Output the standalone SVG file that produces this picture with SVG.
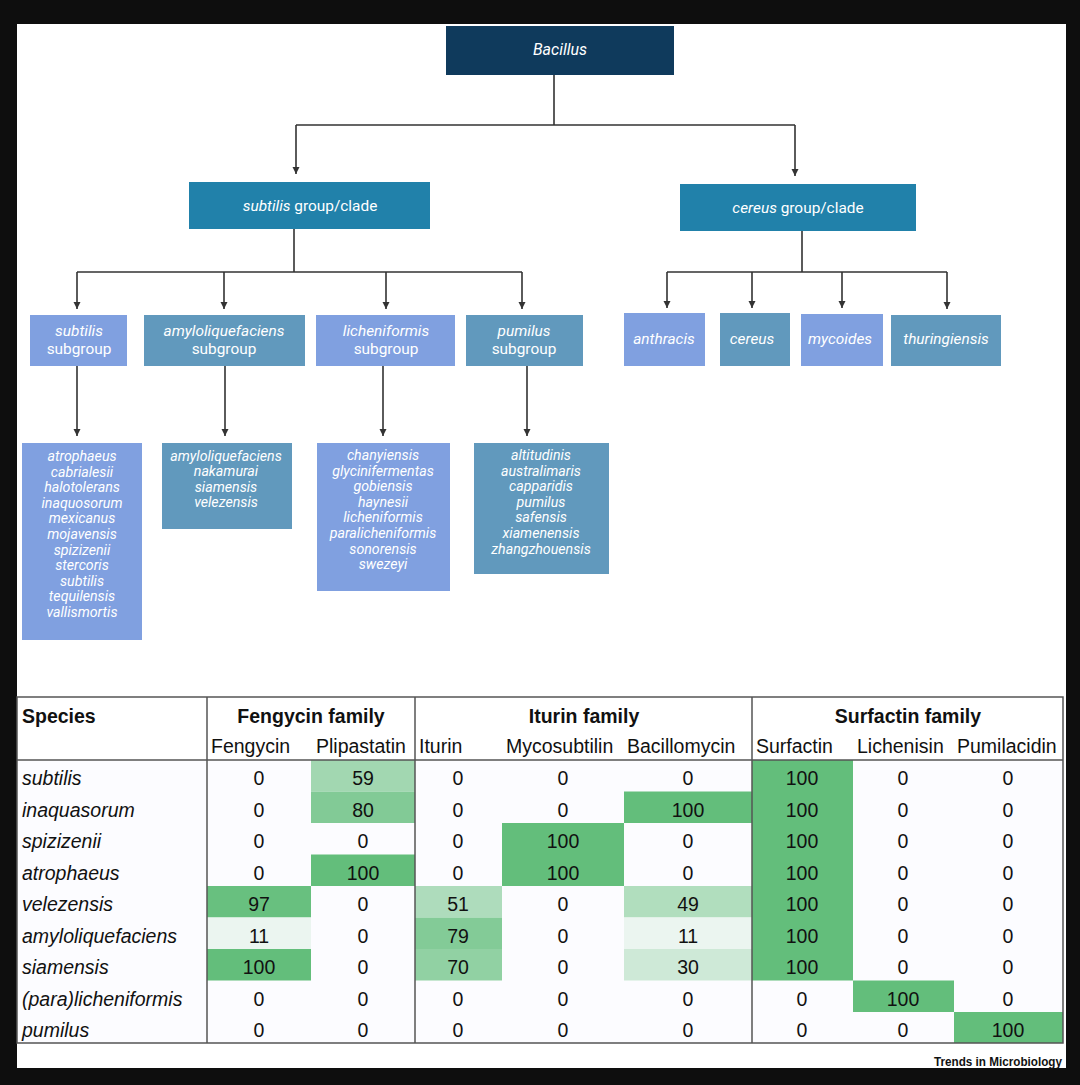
<svg xmlns="http://www.w3.org/2000/svg" width="1080" height="1085" viewBox="0 0 1080 1085">
<style>
.t{font-family:Roboto,"Liberation Sans",sans-serif;fill:#fff;text-anchor:middle}
.i{font-style:italic}
.sp{font-family:Roboto,"Liberation Sans",sans-serif;font-style:italic;font-size:14.2px;fill:#fff;text-anchor:middle}
.peri{fill:#80a0e0}
.steel{fill:#6199bd}
.grp{fill:#2181aa}
.conn{stroke:#333;stroke-width:1.6;fill:none}
.tb{font-family:"Liberation Sans",Arial,sans-serif;font-size:19.5px;fill:#111}
.b{font-weight:bold}
.c{text-anchor:middle}
.grid{stroke:#555;stroke-width:1.5;fill:none}
</style>
<defs>
<marker id="ah" viewBox="0 0 10 10" refX="10" refY="5" markerWidth="7" markerHeight="8" markerUnits="userSpaceOnUse" orient="auto">
<path d="M0,0 L10,5 L0,10 z" fill="#333"/>
</marker>
</defs>
<rect x="0" y="0" width="1080" height="1085" fill="#0e0e0e"/>
<rect x="17" y="24" width="1049" height="1044" fill="#fff"/>

<g id="connectors">
<path class="conn" d="M554,75 V125 M296,125 H795 M802,231 V272 M667,272 H947 M294,229 V272 M77,272 H522"/>
<path class="conn" marker-end="url(#ah)" d="M296,125 V174"/>
<path class="conn" marker-end="url(#ah)" d="M795,125 V176"/>
<path class="conn" marker-end="url(#ah)" d="M77,272 V309"/>
<path class="conn" marker-end="url(#ah)" d="M224,272 V309"/>
<path class="conn" marker-end="url(#ah)" d="M386,272 V309"/>
<path class="conn" marker-end="url(#ah)" d="M522,272 V309"/>
<path class="conn" marker-end="url(#ah)" d="M667,272 V308"/>
<path class="conn" marker-end="url(#ah)" d="M752,272 V308"/>
<path class="conn" marker-end="url(#ah)" d="M842,272 V308"/>
<path class="conn" marker-end="url(#ah)" d="M947,272 V309"/>
<path class="conn" marker-end="url(#ah)" d="M77,366 V436"/>
<path class="conn" marker-end="url(#ah)" d="M225,366 V436"/>
<path class="conn" marker-end="url(#ah)" d="M383,366 V436"/>
<path class="conn" marker-end="url(#ah)" d="M527,366 V436"/>
</g>

<g id="bacillus">
<rect x="446" y="26" width="228" height="49" fill="#0f3a5c"/>
<text class="t i" x="560" y="55" font-size="16">Bacillus</text>
</g>
<g id="subtilis-group">
<rect class="grp" x="189" y="182" width="241" height="47"/>
<text class="t" x="310" y="211" font-size="15.4"><tspan class="i">subtilis</tspan> group/clade</text>
</g>
<g id="cereus-group">
<rect class="grp" x="680" y="184" width="236" height="47"/>
<text class="t" x="798" y="213" font-size="15.4"><tspan class="i">cereus</tspan> group/clade</text>
</g>

<g id="subtilis-subgroup">
<rect class="peri" x="30" y="315" width="97" height="51"/>
<text class="t" font-size="15.4"><tspan class="i" x="79" y="336">subtilis</tspan><tspan x="79" y="354">subgroup</tspan></text>
</g>
<g id="amylo-subgroup">
<rect class="steel" x="144" y="315" width="161" height="51"/>
<text class="t" font-size="15.4"><tspan class="i" x="224" y="336">amyloliquefaciens</tspan><tspan x="224" y="354">subgroup</tspan></text>
</g>
<g id="lichen-subgroup">
<rect class="peri" x="316" y="315" width="139" height="51"/>
<text class="t" font-size="15.4"><tspan class="i" x="386" y="336">licheniformis</tspan><tspan x="386" y="354">subgroup</tspan></text>
</g>
<g id="pumilus-subgroup">
<rect class="steel" x="466" y="315" width="117" height="51"/>
<text class="t" font-size="15.4"><tspan class="i" x="524" y="336">pumilus</tspan><tspan x="524" y="354">subgroup</tspan></text>
</g>

<g id="anthracis">
<rect class="peri" x="624" y="313" width="81" height="53"/>
<text class="t i" x="664" y="344" font-size="15.4">anthracis</text>
</g>
<g id="cereus">
<rect class="steel" x="720" y="313" width="70" height="53"/>
<text class="t i" x="752" y="344" font-size="15.4">cereus</text>
</g>
<g id="mycoides">
<rect class="peri" x="801" y="314" width="82" height="52"/>
<text class="t i" x="840" y="344" font-size="15.4">mycoides</text>
</g>
<g id="thuringiensis">
<rect class="steel" x="891" y="315" width="110" height="51"/>
<text class="t i" x="946" y="344" font-size="15.4">thuringiensis</text>
</g>

<g id="subtilis-species">
<rect class="peri" x="22" y="443" width="120" height="197"/>
<text class="sp"><tspan x="82" y="461">atrophaeus</tspan><tspan x="82" y="476.6">cabrialesii</tspan><tspan x="82" y="492.2">halotolerans</tspan><tspan x="82" y="507.8">inaquosorum</tspan><tspan x="82" y="523.4">mexicanus</tspan><tspan x="82" y="539">mojavensis</tspan><tspan x="82" y="554.6">spizizenii</tspan><tspan x="82" y="570.2">stercoris</tspan><tspan x="82" y="585.8">subtilis</tspan><tspan x="82" y="601.4">tequilensis</tspan><tspan x="82" y="617">vallismortis</tspan></text>
</g>
<g id="amylo-species">
<rect class="steel" x="162" y="443" width="130" height="86"/>
<text class="sp"><tspan x="226" y="460.5">amyloliquefaciens</tspan><tspan x="226" y="476.1">nakamurai</tspan><tspan x="226" y="491.7">siamensis</tspan><tspan x="226" y="507.3">velezensis</tspan></text>
</g>
<g id="lichen-species">
<rect class="peri" x="317" y="443" width="133" height="148"/>
<text class="sp"><tspan x="383" y="460">chanyiensis</tspan><tspan x="383" y="475.6">glycinifermentas</tspan><tspan x="383" y="491.2">gobiensis</tspan><tspan x="383" y="506.8">haynesii</tspan><tspan x="383" y="522.4">licheniformis</tspan><tspan x="383" y="538">paralicheniformis</tspan><tspan x="383" y="553.6">sonorensis</tspan><tspan x="383" y="569.2">swezeyi</tspan></text>
</g>
<g id="pumilus-species">
<rect class="steel" x="474" y="443" width="135" height="131"/>
<text class="sp"><tspan x="541" y="460">altitudinis</tspan><tspan x="541" y="475.6">australimaris</tspan><tspan x="541" y="491.2">capparidis</tspan><tspan x="541" y="506.8">pumilus</tspan><tspan x="541" y="522.4">safensis</tspan><tspan x="541" y="538">xiamenensis</tspan><tspan x="541" y="553.6">zhangzhouensis</tspan></text>
</g>

<g id="table">
<rect x="17" y="697" width="1046" height="346" fill="#fcfcff"/>
<rect x="17" y="697" width="1046" height="63" fill="#fff"/>
<rect x="311" y="760" width="104" height="31.5" fill="#a2d7b1"/>
<rect x="311" y="791.5" width="104" height="31.5" fill="#82ca96"/>
<rect x="311" y="854.5" width="104" height="31.5" fill="#63be7b"/>
<rect x="624" y="791.5" width="128" height="31.5" fill="#63be7b"/>
<rect x="502" y="823" width="122" height="63" fill="#63be7b"/>
<rect x="752" y="760" width="101" height="220.5" fill="#63be7b"/>
<rect x="207" y="886" width="104" height="31.5" fill="#68c07f"/>
<rect x="207" y="917.5" width="104" height="31.5" fill="#ebf5f0"/>
<rect x="207" y="949" width="104" height="31.5" fill="#63be7b"/>
<rect x="415" y="886" width="87" height="31.5" fill="#aedcbc"/>
<rect x="415" y="917.5" width="87" height="31.5" fill="#83cb97"/>
<rect x="415" y="949" width="87" height="31.5" fill="#91d1a3"/>
<rect x="624" y="886" width="128" height="31.5" fill="#b1debe"/>
<rect x="624" y="917.5" width="128" height="31.5" fill="#ebf5f0"/>
<rect x="624" y="949" width="128" height="31.5" fill="#cee9d7"/>
<rect x="853" y="980.5" width="101" height="31.5" fill="#63be7b"/>
<rect x="954" y="1012" width="109" height="31" fill="#63be7b"/>
<rect class="grid" x="17" y="697" width="1046" height="346"/>
<path class="grid" d="M17,760 H1063 M207,697 V1043 M415,697 V1043 M752,697 V1043"/>
<text class="tb b" x="22" y="723">Species</text>
<text class="tb b c" x="311" y="723">Fengycin family</text>
<text class="tb b c" x="584" y="723">Iturin family</text>
<text class="tb b c" x="908" y="723">Surfactin family</text>
<text class="tb" y="753"><tspan x="211">Fengycin</tspan><tspan x="316">Plipastatin</tspan><tspan x="419">Iturin</tspan><tspan x="506">Mycosubtilin</tspan><tspan x="627">Bacillomycin</tspan><tspan x="756">Surfactin</tspan><tspan x="857">Lichenisin</tspan><tspan x="957">Pumilacidin</tspan></text>
<g class="tb" font-style="italic">
<text x="22" y="785">subtilis</text>
<text x="22" y="816.5">inaquasorum</text>
<text x="22" y="848">spizizenii</text>
<text x="22" y="879.5">atrophaeus</text>
<text x="22" y="911">velezensis</text>
<text x="22" y="942.5">amyloliquefaciens</text>
<text x="22" y="974">siamensis</text>
<text x="22" y="1005.5">(para)licheniformis</text>
<text x="22" y="1037">pumilus</text>
</g>
<g class="tb c">
<text y="785"><tspan x="259">0</tspan><tspan x="363">59</tspan><tspan x="458">0</tspan><tspan x="563">0</tspan><tspan x="688">0</tspan><tspan x="802">100</tspan></text>
<text y="816.5"><tspan x="259">0</tspan><tspan x="363">80</tspan><tspan x="458">0</tspan><tspan x="563">0</tspan><tspan x="688">100</tspan><tspan x="802">100</tspan></text>
<text y="848"><tspan x="259">0</tspan><tspan x="363">0</tspan><tspan x="458">0</tspan><tspan x="563">100</tspan><tspan x="688">0</tspan><tspan x="802">100</tspan></text>
<text y="879.5"><tspan x="259">0</tspan><tspan x="363">100</tspan><tspan x="458">0</tspan><tspan x="563">100</tspan><tspan x="688">0</tspan><tspan x="802">100</tspan></text>
<text y="911"><tspan x="259">97</tspan><tspan x="363">0</tspan><tspan x="458">51</tspan><tspan x="563">0</tspan><tspan x="688">49</tspan><tspan x="802">100</tspan></text>
<text y="942.5"><tspan x="259">11</tspan><tspan x="363">0</tspan><tspan x="458">79</tspan><tspan x="563">0</tspan><tspan x="688">11</tspan><tspan x="802">100</tspan></text>
<text y="974"><tspan x="259">100</tspan><tspan x="363">0</tspan><tspan x="458">70</tspan><tspan x="563">0</tspan><tspan x="688">30</tspan><tspan x="802">100</tspan></text>
<text y="1005.5"><tspan x="259">0</tspan><tspan x="363">0</tspan><tspan x="458">0</tspan><tspan x="563">0</tspan><tspan x="688">0</tspan><tspan x="802">0</tspan><tspan x="903">100</tspan></text>
<text y="1037"><tspan x="259">0</tspan><tspan x="363">0</tspan><tspan x="458">0</tspan><tspan x="563">0</tspan><tspan x="688">0</tspan><tspan x="802">0</tspan><tspan x="1008">100</tspan></text>
</g>
<g class="tb c" font-size="17.5">
<text y="785"><tspan x="903">0</tspan><tspan x="1008">0</tspan></text>
<text y="816.5"><tspan x="903">0</tspan><tspan x="1008">0</tspan></text>
<text y="848"><tspan x="903">0</tspan><tspan x="1008">0</tspan></text>
<text y="879.5"><tspan x="903">0</tspan><tspan x="1008">0</tspan></text>
<text y="911"><tspan x="903">0</tspan><tspan x="1008">0</tspan></text>
<text y="942.5"><tspan x="903">0</tspan><tspan x="1008">0</tspan></text>
<text y="974"><tspan x="903">0</tspan><tspan x="1008">0</tspan></text>
<text y="1005.5"><tspan x="1008">0</tspan></text>
<text y="1037"><tspan x="903">0</tspan></text>
</g>
</g>
<text x="1062" y="1066" font-family="'Liberation Sans',Arial,sans-serif" font-weight="bold" font-size="13" text-anchor="end" textLength="128" lengthAdjust="spacingAndGlyphs" fill="#111">Trends in Microbiology</text>
</svg>
